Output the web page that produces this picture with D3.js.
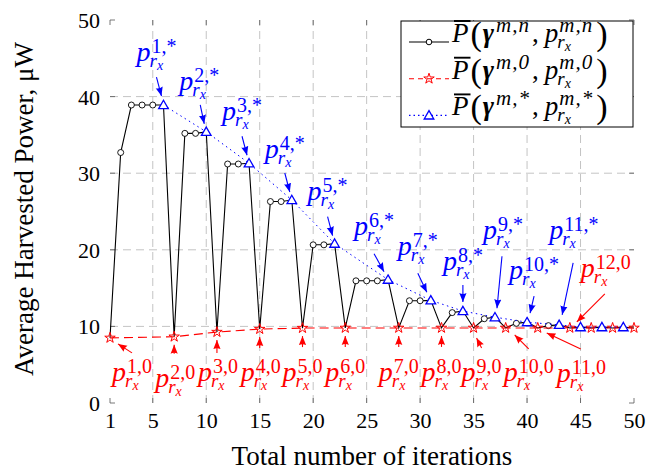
<!DOCTYPE html>
<html>
<head>
<meta charset="utf-8">
<script src="https://cdn.jsdelivr.net/npm/d3@7"></script>
<style>
  html, body { margin: 0; padding: 0; background: #ffffff; }
  svg { display: block; }
  text { font-family: "Liberation Serif", "Times New Roman", serif; }
</style>
</head>
<body>
<svg id="chart" width="660" height="470"></svg>
<script>
// ---------------- data ----------------
const iterations = [1,2,3,4,5,6,7,8,9,10,11,12,13,14,15,16,17,18,19,20,21,22,23,24,25,
  26,27,28,29,30,31,32,33,34,35,36,37,38,39,40,41,42,43,44,45,46,47,48,49,50];
const powerAll = [8.5,32.7,38.9,38.9,38.9,38.9,8.65,35.2,35.2,35.4,
  9.26,31.2,31.2,31.3,9.65,26.3,26.3,26.5,9.78,20.65,
  20.65,20.8,9.8,15.95,15.95,15.95,16.1,9.8,13.35,13.35,
  13.4,9.8,11.8,12.0,9.8,11.0,11.2,9.8,10.4,10.55,
  9.8,10.1,10.2,9.8,9.9,9.8,9.9,9.8,9.9,9.8];
const initX = [1,7,11,15,19,23,28,32,35,38,41,44,46,48,50];
const initY = [8.5,8.65,9.26,9.65,9.78,9.8,9.8,9.8,9.8,9.8,9.8,9.8,9.8,9.8,9.8];
const optX = [6,10,14,18,22,27,31,34,37,40,43,45,47,49];
const optY = [38.9,35.4,31.3,26.5,20.8,16.1,13.4,12.0,11.2,10.55,10.2,9.9,9.9,9.9];
const xTicks = [1,5,10,15,20,25,30,35,40,45,50];
const yTicks = [0,10,20,30,40,50];
const xTitle = "Total number of iterations";
const yTitle = "Average Harvested Power, \u03bcW";
const legendSups = ["m,n", "m,0", "m,*"];

// annotations: target iteration, superscript, label / arrow offsets (px) from the marker
const optNotes = [
  {at:6,  sup:"1,*",  lab:[-27,-44], from:[-7,-28], to:[-2,-9]},
  {at:10, sup:"2,*",  lab:[-27,-42], from:[-6,-27], to:[-2,-8]},
  {at:14, sup:"3,*",  lab:[-27,-43], from:[-7,-27], to:[-2,-8]},
  {at:18, sup:"4,*",  lab:[-27,-42], from:[-7,-27], to:[-2,-8]},
  {at:22, sup:"5,*",  lab:[-27,-44], from:[-7,-27], to:[-2,-8]},
  {at:27, sup:"6,*",  lab:[-34,-45], from:[-14,-26], to:[-4,-8]},
  {at:31, sup:"7,*",  lab:[-33,-45], from:[-13,-27], to:[-4,-8]},
  {at:34, sup:"8,*",  lab:[-20,-41], from:[0,-26], to:[0,-9]},
  {at:37, sup:"9,*",  lab:[-12,-78], from:[7,-61], to:[2,-9]},
  {at:40, sup:"10,*", lab:[-18,-43], from:[7,-26], to:[3,-9]},
  {at:43, sup:"11,*", lab:[-10,-86], from:[14,-62], to:[3,-10]}
];
const initNotes = [
  {at:1,  sup:"1,0",  lab:[2,43],   from:[22,15], to:[8,6]},
  {at:7,  sup:"2,0",  lab:[-19,50], from:[0,17], to:[0,8]},
  {at:11, sup:"3,0",  lab:[-19,49], from:[0,21], to:[0,8]},
  {at:15, sup:"4,0",  lab:[-19,52], from:[0,19], to:[0,8]},
  {at:19, sup:"5,0",  lab:[-20,53], from:[0,19], to:[0,8]},
  {at:23, sup:"6,0",  lab:[-20,53], from:[0,19], to:[0,8]},
  {at:28, sup:"7,0",  lab:[-20,53], from:[0,19], to:[0,8]},
  {at:32, sup:"8,0",  lab:[-20,53], from:[0,19], to:[0,8]},
  {at:35, sup:"9,0",  lab:[-12,53], from:[8,20], to:[3,10]},
  {at:38, sup:"10,0", lab:[-2,53],  from:[23,21], to:[9,7]},
  {at:41, sup:"11,0", lab:[19,54],  from:[43,21], to:[9,5]},
  {at:44, sup:"12,0", lab:[11,-51], from:[35,-34], to:[7,-6]}
];

// ---------------- layout ----------------
const svg = d3.select("#chart");
const L = 110, R = 634, T = 20, B = 403;
const x = d3.scaleLinear().domain([1,50]).range([L,R]);
const y = d3.scaleLinear().domain([0,50]).range([B,T]);
const BLUE = "#0000ff", RED = "#ff0000";

// arrow markers
const defs = svg.append("defs");
[["arrBlue",BLUE],["arrRed",RED]].forEach(([id,c]) => {
  defs.append("marker").attr("id",id).attr("viewBox","0 0 10 10")
    .attr("refX",10).attr("refY",5).attr("markerWidth",9).attr("markerHeight",9)
    .attr("markerUnits","userSpaceOnUse").attr("orient","auto")
    .append("path").attr("d","M0,1 L10,5 L0,9 Q2,5 0,1 Z").attr("fill",c);
});

// grid
const grid = svg.append("g").attr("stroke","#c4c4c4").attr("stroke-width",1).attr("stroke-dasharray","8,5");
xTicks.slice(1, -1).forEach(v => grid.append("line").attr("x1",x(v)).attr("x2",x(v)).attr("y1",B).attr("y2",T));
yTicks.slice(1, -1).forEach(v => grid.append("line").attr("x1",L).attr("x2",R).attr("y1",y(v)).attr("y2",y(v)));

// tick marks (inside, both sides)
const tk = svg.append("g").attr("stroke","#555").attr("stroke-width",0.8);
xTicks.forEach(v => {
  tk.append("line").attr("x1",x(v)).attr("x2",x(v)).attr("y1",B).attr("y2",B-5);
  tk.append("line").attr("x1",x(v)).attr("x2",x(v)).attr("y1",T).attr("y2",T+5);
});
yTicks.forEach(v => {
  tk.append("line").attr("x1",L).attr("x2",L+5).attr("y1",y(v)).attr("y2",y(v));
  tk.append("line").attr("x1",R).attr("x2",R-5).attr("y1",y(v)).attr("y2",y(v));
});

// axes labels via d3 axes (no domain/tick lines)
const xAxis = svg.append("g").attr("transform",`translate(0,${B})`)
  .call(d3.axisBottom(x).tickValues(xTicks).tickSize(0).tickPadding(0).tickFormat(d3.format("d")));
xAxis.select(".domain").remove();
xAxis.selectAll("text").attr("font-size",22).attr("fill","#000").attr("dy",null).attr("y",25);
const yAxis = svg.append("g").attr("transform",`translate(${L},0)`)
  .call(d3.axisLeft(y).tickValues(yTicks).tickSize(0).tickPadding(10).tickFormat(d3.format("d")));
yAxis.select(".domain").remove();
yAxis.selectAll("text").attr("font-size",22).attr("fill","#000").attr("dy","0.34em");

svg.append("text").attr("x",(L+R)/2).attr("y",465).attr("text-anchor","middle")
  .attr("font-size",27).text(xTitle);
svg.append("text").attr("transform","translate(33,209) rotate(-90)").attr("text-anchor","middle")
  .attr("font-size",27).text(yTitle);

// ---------------- series ----------------
const allPts = iterations.map((it,i) => ({x:it, y:powerAll[i]}));
const initPts = initX.map((it,i) => ({x:it, y:initY[i]}));
const optPts = optX.map((it,i) => ({x:it, y:optY[i]}));
const line = d3.line().x(d => x(d.x)).y(d => y(d.y));

svg.append("path").datum(allPts).attr("d",line).attr("fill","none").attr("stroke","#000").attr("stroke-width",1.1);
svg.append("g").selectAll("circle")
  .data(allPts.filter(p => !initX.includes(p.x) && !optX.includes(p.x)))
  .join("circle").attr("cx",d=>x(d.x)).attr("cy",d=>y(d.y)).attr("r",3)
  .attr("fill","#fff").attr("stroke","#000").attr("stroke-width",0.9);

svg.append("path").datum(initPts).attr("d",line).attr("fill","none").attr("stroke",RED)
  .attr("stroke-width",1.1).attr("stroke-dasharray","9,5");
const star = d3.symbol().type(d3.symbolStar).size(34);
svg.append("g").selectAll("path").data(initPts).join("path")
  .attr("d",star).attr("transform",d=>`translate(${x(d.x)},${y(d.y)})`)
  .attr("fill","none").attr("stroke",RED).attr("stroke-width",1);

svg.append("path").datum(optPts).attr("d",line).attr("fill","none").attr("stroke",BLUE)
  .attr("stroke-width",1).attr("stroke-dasharray","1.5,3.5");
const tri = d3.symbol().type(d3.symbolTriangle).size(40);
svg.append("g").selectAll("path").data(optPts).join("path")
  .attr("d",tri).attr("transform",d=>`translate(${x(d.x)},${y(d.y)+0.8})`)
  .attr("fill","#fff").attr("stroke",BLUE).attr("stroke-width",1.3);

// ---------------- annotations ----------------
function pLabel(g, px, py, sup, color) {
  const t = g.append("g").attr("transform",`translate(${px},${py})`).attr("fill",color);
  const p = t.append("text").attr("font-style","italic").attr("font-size",28).text("p");
  const w = p.node().getComputedTextLength();
  t.append("text").attr("x",w+1).attr("y",-8).attr("font-size",20).text(sup);
  const r = t.append("text").attr("x",w-1).attr("y",6).attr("font-size",19).attr("font-style","italic").text("r");
  const rw = r.node().getComputedTextLength();
  t.append("text").attr("x",w-1+rw).attr("y",9).attr("font-size",14).attr("font-style","italic").text("x");
}
const ann = svg.append("g");
function drawNotes(notes, xs, ys, color, marker) {
  notes.forEach(n => {
    const i = xs.indexOf(n.at);
    const cx = x(n.at), cy = y(ys[i]);
    ann.append("line").attr("x1",cx+n.from[0]).attr("y1",cy+n.from[1])
      .attr("x2",cx+n.to[0]).attr("y2",cy+n.to[1])
      .attr("stroke",color).attr("stroke-width",1.1).attr("marker-end",`url(#${marker})`);
    pLabel(ann, cx+n.lab[0], cy+n.lab[1], n.sup, color);
  });
}
drawNotes(optNotes, optX, optY, BLUE, "arrBlue");
drawNotes(initNotes, initX, initY, RED, "arrRed");

// ---------------- legend ----------------
const lg = svg.append("g");
lg.append("rect").attr("x",401).attr("y",21).attr("width",232).attr("height",106)
  .attr("fill","#fff").attr("stroke","#000").attr("stroke-width",1);
const rows = [
  {stroke:"#000", dash:null, mk:"circle"},
  {stroke:RED, dash:"5,4", mk:"star"},
  {stroke:BLUE, dash:"1.5,3", mk:"tri"}
];
rows.forEach((r, k) => {
  const sup = legendSups[k];
  const by = 42 + k*36.7;
  lg.append("line").attr("x1",409).attr("x2",449).attr("y1",by).attr("y2",by)
    .attr("stroke",r.stroke).attr("stroke-width",1.1).attr("stroke-dasharray",r.dash);
  if (r.mk === "circle") lg.append("circle").attr("cx",429).attr("cy",by).attr("r",2.8)
    .attr("fill","#fff").attr("stroke","#000");
  if (r.mk === "star") lg.append("path").attr("d",star).attr("transform",`translate(429,${by})`)
    .attr("fill","none").attr("stroke",RED);
  if (r.mk === "tri") lg.append("path").attr("d",tri).attr("transform",`translate(429,${by+0.8})`)
    .attr("fill","#fff").attr("stroke",BLUE).attr("stroke-width",1.3);
  const t = lg.append("g").attr("transform",`translate(452,${by})`);
  let cx = 0;
  const put = (txt, size, dy, style, weight, ls) => {
    const e = t.append("text").attr("x",cx).attr("y",dy).attr("font-size",size)
      .attr("font-style",style||"normal").attr("font-weight",weight||"normal")
      .attr("letter-spacing",ls||0).text(txt);
    return e.node().getComputedTextLength();
  };
  const wP = put("P",27,0,"italic");
  t.append("line").attr("x1",cx+2).attr("x2",cx+wP+2).attr("y1",-21).attr("y2",-21)
    .attr("stroke","#000").attr("stroke-width",1.9);
  cx += wP + 2;
  cx += put("(",34,3) + 1;
  cx += put("\u03b3",27,0,"italic","bold") + 2;
  cx += put(sup,21,-10,"italic",null,1) + 2;
  cx += put(",",27,0) + 6;
  const wp = put("p",27,0,"italic");
  const sx = cx + wp;
  cx = sx + 1;
  const ws = put(sup,21,-10,"italic",null,1);
  cx = sx - 1;
  const wr = put("r",19,6,"italic");
  cx += wr;
  const wx = put("x",14,9,"italic");
  cx = Math.max(sx + 1 + ws, sx - 1 + wr + wx) + 3;
  put(")",34,3);
});
</script>
</body>
</html>
